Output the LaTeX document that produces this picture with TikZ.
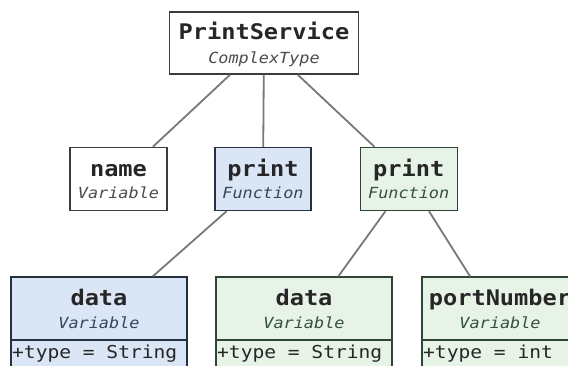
\documentclass[tikz,border=0pt]{standalone}
\usepackage{fontspec}
\setmainfont{DejaVu Sans Mono}[FakeStretch=1.1,BoldFont={DejaVu Sans Mono Bold},ItalicFont={DejaVu Sans Mono Oblique}]
\definecolor{bluefill}{HTML}{DAE6F6}
\definecolor{blueline}{HTML}{26313F}
\definecolor{bluetext}{HTML}{34475C}
\definecolor{greenfill}{HTML}{E7F3E7}
\definecolor{greenline}{HTML}{2E4536}
\definecolor{greentext}{HTML}{34503E}
\definecolor{plainline}{HTML}{3C3C3C}
\definecolor{conn}{HTML}{787878}
\begin{document}
\begin{tikzpicture}[x=1pt,y=-1pt,
  box/.style={draw=plainline,fill=white,line width=1.4pt,rectangle,inner sep=0pt},
  bluebox/.style={box,draw=blueline,fill=bluefill},
  greenbox/.style={box,draw=greenline,fill=greenfill},
  ttl/.style={anchor=base,inner sep=0pt,font=\fontsize{21.5}{24}\selectfont\bfseries,text=black!85},
  typ/.style={anchor=base,inner sep=0pt,font=\fontsize{15.3}{17}\selectfont\itshape,text=black!70},
  attr/.style={anchor=base west,inner sep=0pt,font=\fontsize{17.8}{20}\selectfont,text=black!85},
  conline/.style={draw=conn,line width=1.8pt}]
\useasboundingbox (0,0) rectangle (568,365);
\clip (0,0) rectangle (568,365);
% boxes
\node[box,minimum width=189pt,minimum height=62pt] (ps) at (264,43) {};
\node[box,minimum width=97pt,minimum height=63pt] (name) at (118.5,179) {};
\node[bluebox,minimum width=96pt,minimum height=63pt] (printb) at (263,179) {};
\node[greenbox,minimum width=97pt,minimum height=63pt] (printg) at (408.7,179) {};
\node[bluebox,minimum width=176pt,minimum height=94pt] (datab) at (99,324) {};
\node[greenbox,minimum width=176pt,minimum height=94pt] (datag) at (304,324) {};
\node[greenbox,minimum width=156pt,minimum height=94pt] (port) at (500,324) {};
% separators
\draw[draw=blueline,line width=1.4pt] (datab.west |- 0,340) -- (datab.east |- 0,340);
\draw[draw=greenline,line width=1.4pt] (datag.west |- 0,340) -- (datag.east |- 0,340);
\draw[draw=greenline,line width=1.4pt] (port.west |- 0,340) -- (port.east |- 0,340);
% connectors
\draw[conline] (ps) -- (name);
\draw[conline] (ps) -- (printb);
\draw[conline] (ps) -- (printg);
\draw[conline] (printb) -- (datab);
\draw[conline] (printg) -- (datag);
\draw[conline] (printg) -- (port);
% texts
\node[ttl] (t1) at (264,39) {PrintService};
\node[typ] (s1) at (264,63) {ComplexType};
\node[ttl] (t2) at (118.5,176) {name};
\node[typ] (s2) at (118.5,198) {Variable};
\node[ttl] (t3) at (263,176) {print};
\node[typ,text=bluetext] (s3) at (263,198) {Function};
\node[ttl] (t4) at (408.7,176) {print};
\node[typ,text=greentext] (s4) at (408.7,198) {Function};
\node[ttl] (t5) at (99,305) {data};
\node[typ,text=bluetext] (s5) at (99,328) {Variable};
\node[attr] (a5) at (12,358) {+type = String};
\node[ttl] (t6) at (304,305) {data};
\node[typ,text=greentext] (s6) at (304,328) {Variable};
\node[attr] (a6) at (217,358) {+type = String};
\node[ttl] (t7) at (500,305) {portNumber};
\node[typ,text=greentext] (s7) at (500,328) {Variable};
\node[attr] (a7) at (423,358) {+type = int};
\end{tikzpicture}
\end{document}
